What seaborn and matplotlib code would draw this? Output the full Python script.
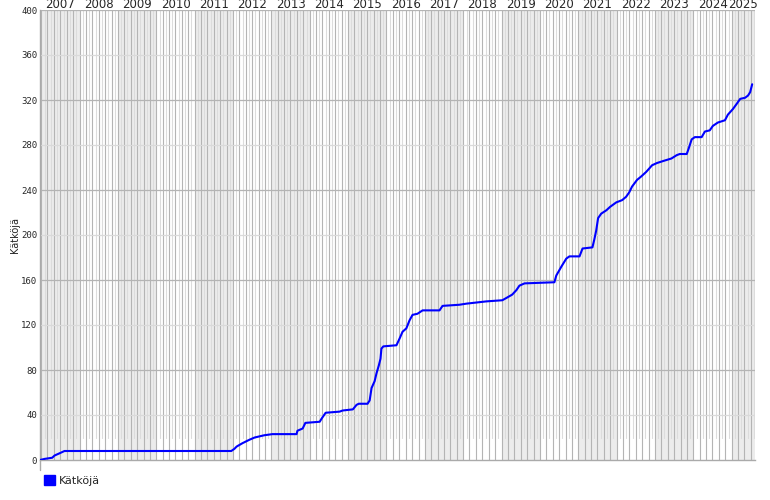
import pandas as pd
import matplotlib.pyplot as plt
import seaborn as sns
from matplotlib.patches import Patch

# data (cumulative count per date)
dates = ['2006-12-20', '2007-02-03', '2007-04-15', '2007-05-08', '2007-06-25', '2007-08-10',
         '2011-12-15', '2012-01-15', '2012-02-05', '2012-04-01', '2012-06-05', '2012-07-25',
         '2012-10-25', '2013-01-10', '2013-08-28', '2013-09-05', '2013-10-25', '2013-11-20',
         '2014-04-05', '2014-04-25', '2014-06-01', '2014-10-12', '2014-11-10', '2015-02-15',
         '2015-03-22', '2015-04-12', '2015-07-05', '2015-07-25', '2015-08-12', '2015-09-10',
         '2015-09-28', '2015-10-20', '2015-11-05', '2015-11-14', '2015-12-02', '2016-04-05',
         '2016-04-15', '2016-05-05', '2016-06-02', '2016-07-08', '2016-08-07', '2016-09-05',
         '2016-10-22', '2016-12-10', '2017-05-20', '2017-06-18', '2017-11-25', '2018-02-02',
         '2018-05-08', '2018-08-10', '2019-01-08', '2019-02-15', '2019-04-12', '2019-05-22',
         '2019-06-20', '2019-08-08', '2020-05-18', '2020-06-05', '2020-07-24', '2020-09-08',
         '2020-10-08', '2021-01-12', '2021-02-10', '2021-05-15', '2021-06-02', '2021-06-20',
         '2021-07-08', '2021-08-07', '2021-09-25', '2021-10-30', '2021-12-28', '2022-02-22',
         '2022-04-01', '2022-05-01', '2022-05-27', '2022-07-14', '2022-08-22', '2022-10-08',
         '2022-11-06', '2022-12-04', '2023-01-20', '2023-03-28', '2023-06-06', '2023-07-27',
         '2023-08-25', '2023-10-30', '2023-11-18', '2023-12-16', '2024-01-15', '2024-03-20',
         '2024-04-20', '2024-06-05', '2024-07-05', '2024-08-22', '2024-10-28', '2024-11-25',
         '2025-01-12', '2025-02-20', '2025-03-22', '2025-05-08', '2025-06-05', '2025-06-25',
         '2025-07-14']
counts = [0, 1, 2, 4, 6, 8,
          8, 10, 12, 15, 18, 20,
          22, 23, 23, 26, 28, 33,
          34, 37, 42, 43, 44, 45,
          49, 50, 50, 53, 64, 70,
          77, 84, 90, 99, 101, 102,
          104, 108, 114, 117, 124, 129,
          130, 133, 133, 137, 138, 139,
          140, 141, 142, 144, 147, 151,
          155, 157, 158, 164, 172, 179,
          181, 181, 188, 189, 196, 204,
          215, 219, 222, 225, 229, 231,
          234, 238, 243, 249, 252, 256,
          259, 262, 264, 266, 268, 271,
          272, 272, 277, 285, 287, 287,
          292, 293, 297, 300, 302, 307,
          312, 317, 321, 322, 324, 327,
          334]
series_name = 'Kätköjä'
y_ticks = list(range(0, 401, 40))

df = pd.DataFrame({'date': pd.to_datetime(dates), 'count': counts})

x_start = pd.Timestamp('2006-12-20')
x_end = pd.Timestamp('2025-08-10')

sns.set_style('white')
plt.rcParams['font.family'] = ['DejaVu Sans']

fig = plt.figure(figsize=(7.7, 5.0), dpi=100)
ax = fig.add_axes([40 / 770, 40 / 500, 715 / 770, 450 / 500])

# year shading (odd years grey) and year labels on top
for yr in range(2006, 2026):
    a = max(pd.Timestamp(f'{yr}-01-01'), x_start)
    b = min(pd.Timestamp(f'{yr + 1}-01-01'), x_end)
    if b <= a:
        continue
    if yr % 2 == 1:
        ax.axvspan(a, b, color='#ececec', lw=0, zorder=0)
    if yr >= 2007:
        mid = a + (b - a) / 2
        ax.text(mid, 1 + 5 / 450, str(yr), transform=ax.get_xaxis_transform(),
                ha='center', va='center', fontsize=8.5, clip_on=False)

# month lines: dark every second month, light in between
for m in pd.date_range('2007-01-01', x_end, freq='MS'):
    if m.month % 2 == 1:
        ax.axvline(m, color='#b4b4b4', lw=0.8, zorder=1)
    else:
        ax.axvline(m, color='#dcdcdc', lw=0.8, ymin=22 / 450, zorder=1)

# horizontal grid
for v in y_ticks[1:]:
    ax.axhline(v, color='#b4b4b4' if v % 80 == 0 else '#dadada', lw=0.9, zorder=1)

sns.lineplot(data=df, x='date', y='count', ax=ax, color='#0000ff', lw=1.5, zorder=3)

ax.set_xlim(x_start, x_end)
ax.set_ylim(0, 400)
ax.set_xticks([])
ax.set_yticks(y_ticks)
ax.set_yticklabels([str(v) for v in y_ticks], fontsize=6.5, family='DejaVu Sans Mono')
ax.tick_params(axis='y', length=0, pad=2)
ax.set_xlabel('')
ax.set_ylabel(series_name, fontsize=7)
ax.yaxis.set_label_coords(-20 / 715, 0.5)
for s in ['top', 'right']:
    ax.spines[s].set_visible(False)
for s in ['left', 'bottom']:
    ax.spines[s].set_color('#aaaaaa')
    ax.spines[s].set_linewidth(1)
ax.plot([0, 0], [0, -10 / 450], transform=ax.transAxes, color='#aaaaaa', lw=1, clip_on=False)

fig.legend(handles=[Patch(color='#0000ff', label=series_name)], loc='lower left',
           bbox_to_anchor=(36 / 770, 6 / 500), frameon=False, fontsize=8,
           handlelength=1.0, handleheight=1.0, handletextpad=0.4, borderpad=0.2)

fig.savefig('out.png', dpi=100)
